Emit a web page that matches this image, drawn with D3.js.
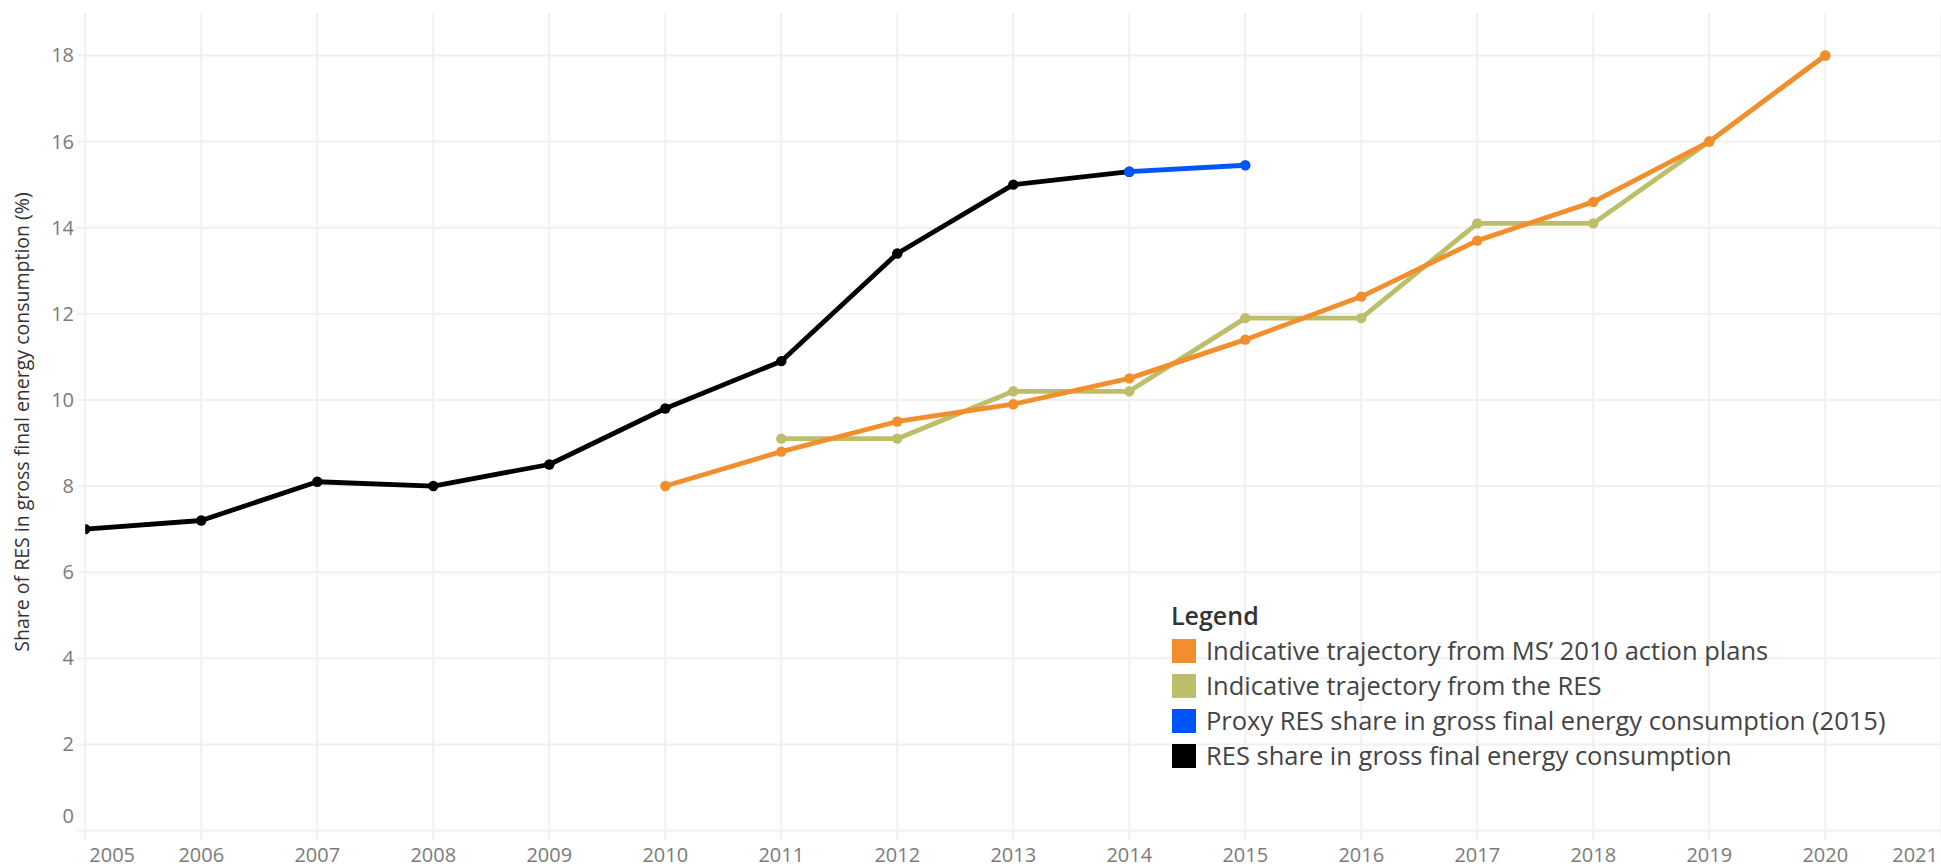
<!DOCTYPE html>
<html>
<head>
<meta charset="utf-8">
<script src="https://cdn.jsdelivr.net/npm/d3@7"></script>
<style>
  html, body { margin: 0; padding: 0; background: #fff; }
  svg { display: block; font-family: "Open Sans", Lato, sans-serif; }
</style>
</head>
<body>
<div id="chart"></div>
<script>
// Data
const resYears = [2005, 2006, 2007, 2008, 2009, 2010, 2011, 2012, 2013, 2014];
const resShare = [7.0, 7.2, 8.1, 8.0, 8.5, 9.8, 10.9, 13.4, 15.0, 15.3];

const proxyYears = [2014, 2015];
const proxyShare = [15.3, 15.45];

const planYears = [2010, 2011, 2012, 2013, 2014, 2015, 2016, 2017, 2018, 2019, 2020];
const planShare = [8.0, 8.8, 9.5, 9.9, 10.5, 11.4, 12.4, 13.7, 14.6, 16.0, 18.0];

const directiveYears = [2011, 2012, 2013, 2014, 2015, 2016, 2017, 2018, 2019, 2020];
const directiveShare = [9.1, 9.1, 10.2, 10.2, 11.9, 11.9, 14.1, 14.1, 16.0, 18.0];

const yTicks = [0, 2, 4, 6, 8, 10, 12, 14, 16, 18];
const xTicks = d3.range(2005, 2022);

const legendLabels = [
    "Indicative trajectory from MS\u2019 2010 action plans",
    "Indicative trajectory from the RES",
    "Proxy RES share in gross final energy consumption (2015)",
    "RES share in gross final energy consumption"
];
const legendColors = ["#f28e2b", "#bdbe68", "#0055ff", "#000000"];

// Set up dimensions
const width = 1941, height = 867;
const pane = { left: 85.3, right: 1941.3, top: 12.4, bottom: 831 };

const svg = d3.select("#chart")
              .append("svg")
              .attr("width", width)
              .attr("height", height);

const x = d3.scaleLinear().domain([2005, 2021]).range([pane.left, pane.right]);
const y = d3.scaleLinear().domain([0, 19]).range([830.5, pane.top]);

// Gridlines
const grid = svg.append("g").attr("stroke", "#f0f0f0").attr("stroke-width", 2);

grid.selectAll(".vgrid")
    .data(xTicks)
    .enter()
    .append("line")
    .attr("x1", d => x(d)).attr("x2", d => x(d))
    .attr("y1", 13).attr("y2", 839);

grid.selectAll(".hgrid")
    .data(yTicks)
    .enter()
    .append("line")
    .attr("x1", 77).attr("x2", width)
    .attr("y1", d => y(d)).attr("y2", d => y(d));

// Axis labels
svg.append("g")
   .selectAll("text")
   .data(yTicks)
   .enter()
   .append("text")
   .attr("x", 74)
   .attr("y", d => d === 0 ? y(d) - 15 : y(d))
   .attr("dy", "0.35em")
   .attr("text-anchor", "end")
   .attr("fill", "#7b7b7b")
   .style("font-size", "20px")
   .text(d => d);

svg.append("g")
   .selectAll("text")
   .data(xTicks)
   .enter()
   .append("text")
   .attr("x", d => d === 2005 ? x(d) + 4 : d === 2021 ? width - 3 : x(d))
   .attr("y", 862)
   .attr("text-anchor", d => d === 2005 ? "start" : d === 2021 ? "end" : "middle")
   .attr("fill", "#7b7b7b")
   .style("font-size", "20px")
   .text(d => d);

svg.append("text")
   .attr("transform", "translate(29,422) rotate(-90)")
   .attr("text-anchor", "middle")
   .attr("fill", "#333")
   .style("font-size", "19.5px")
   .text("Share of RES in gross final energy consumption (%)");

// Series
svg.append("clipPath")
   .attr("id", "pane")
   .append("rect")
   .attr("x", pane.left).attr("y", 0)
   .attr("width", pane.right - pane.left).attr("height", pane.bottom + 6);

const plot = svg.append("g").attr("clip-path", "url(#pane)");

const line = d3.line().x(d => x(d[0])).y(d => y(d[1]));

function drawSeries(years, values, color) {
    const pts = years.map((yr, i) => [yr, values[i]]);
    plot.append("path")
        .datum(pts)
        .attr("d", line)
        .attr("fill", "none")
        .attr("stroke", color)
        .attr("stroke-width", 4.8)
        .attr("stroke-linejoin", "round");
    plot.append("g")
        .selectAll("circle")
        .data(pts)
        .enter()
        .append("circle")
        .attr("cx", d => x(d[0]))
        .attr("cy", d => y(d[1]))
        .attr("r", 5.2)
        .attr("fill", color);
}

drawSeries(directiveYears, directiveShare, legendColors[1]);
drawSeries(planYears, planShare, legendColors[0]);
drawSeries(resYears, resShare, legendColors[3]);
drawSeries(proxyYears, proxyShare, legendColors[2]);

// Legend
const legend = svg.append("g").attr("transform", "translate(1171,0)");

legend.append("text")
      .attr("x", 0).attr("y", 616)
      .attr("dy", "0.35em")
      .attr("fill", "#333")
      .style("font-size", "25px")
      .style("font-weight", "600")
      .text("Legend");

const item = legend.selectAll(".item")
                   .data(legendLabels)
                   .enter()
                   .append("g")
                   .attr("transform", (d, i) => `translate(0,${651 + i * 35})`);

item.append("rect")
    .attr("x", 1).attr("y", -12)
    .attr("width", 24).attr("height", 24)
    .attr("fill", (d, i) => legendColors[i]);

item.append("text")
    .attr("x", 35).attr("y", 0)
    .attr("dy", "0.35em")
    .attr("fill", "#444")
    .style("font-size", "25.5px")
    .text(d => d);
</script>
</body>
</html>
